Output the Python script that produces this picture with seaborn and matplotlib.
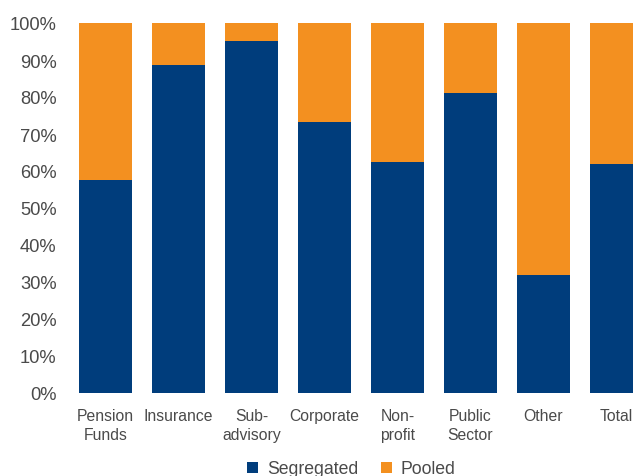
import matplotlib
matplotlib.use("Agg")
import matplotlib.pyplot as plt
from matplotlib.patches import Patch
import seaborn as sns
import pandas as pd

categories = ["Pension\nFunds", "Insurance", "Sub-\nadvisory", "Corporate",
              "Non-\nprofit", "Public\nSector", "Other", "Total"]
segregated = [0.576, 0.886, 0.951, 0.732, 0.624, 0.811, 0.319, 0.619]
pooled = [1 - s for s in segregated]
y_ticks = [0, 0.1, 0.2, 0.3, 0.4, 0.5, 0.6, 0.7, 0.8, 0.9, 1.0]
y_tick_labels = ["0%", "10%", "20%", "30%", "40%", "50%", "60%", "70%", "80%", "90%", "100%"]

BLUE = "#003D7C"
ORANGE = "#F39020"
TEXT = "#4a4a4a"

sns.set_style("white")
plt.rcParams["font.family"] = ["Liberation Sans", "DejaVu Sans"]

df = pd.DataFrame({
    "category": categories,
    "segregated": segregated,
    "total": [s + p for s, p in zip(segregated, pooled)],
})

fig = plt.figure(figsize=(6.33, 4.77), dpi=100)
ax = fig.add_axes([69 / 633, 83 / 477, 584 / 633, 370 / 477])

sns.barplot(data=df, x="category", y="total", color=ORANGE, width=0.726,
            saturation=1, linewidth=0, ax=ax)
sns.barplot(data=df, x="category", y="segregated", color=BLUE, width=0.726,
            saturation=1, linewidth=0, ax=ax)

ax.set_xlim(-0.5, 7.5)
ax.set_ylim(0, 1)
ax.set_yticks(y_ticks)
ax.set_yticklabels(y_tick_labels, fontsize=13.2, color=TEXT)
ax.tick_params(axis="x", labelsize=11.3, colors=TEXT, length=0, pad=11)
ax.tick_params(axis="y", length=0, pad=9)
for lbl in ax.get_xticklabels():
    lbl.set_linespacing(1.35)
ax.set_xlabel("")
ax.set_ylabel("")
for sp in ax.spines.values():
    sp.set_visible(False)
ax.grid(False)

handles = [Patch(facecolor=BLUE, edgecolor="none", label="Segregated"),
           Patch(facecolor=ORANGE, edgecolor="none", label="Pooled")]
leg = fig.legend(handles=handles, loc="center", bbox_to_anchor=(0.555, 0.015),
                 ncol=2, frameon=False, fontsize=12.7, handlelength=0.6,
                 handleheight=0.6, handletextpad=0.5, columnspacing=1.3)
for t in leg.get_texts():
    t.set_color(TEXT)

fig.savefig("out.png", dpi=100)
